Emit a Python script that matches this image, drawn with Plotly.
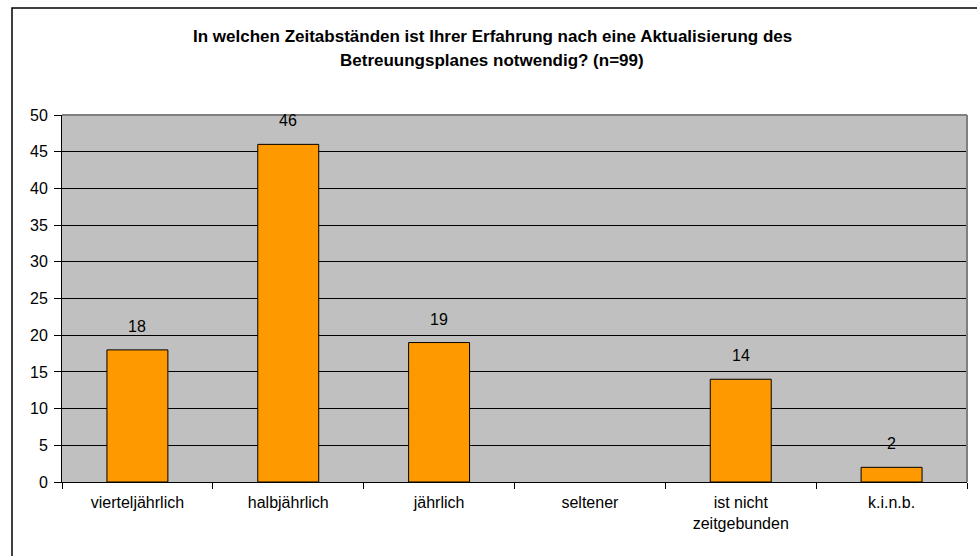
import plotly.graph_objects as go

categories = ["vierteljährlich", "halbjährlich", "jährlich", "seltener", "ist nicht<br>zeitgebunden", "k.i.n.b."]
values = [18, 46, 19, None, 14, 2]
title_lines = ["In welchen Zeitabständen ist Ihrer Erfahrung nach eine Aktualisierung des",
               "Betreuungsplanes notwendig? (n=99)"]
y_ticks = [0, 5, 10, 15, 20, 25, 30, 35, 40, 45, 50]

FONT = "Liberation Sans, Arial, sans-serif"

fig = go.Figure()
fig.add_trace(go.Bar(
    x=categories, y=values,
    marker=dict(color="#FF9900", line=dict(color="black", width=1)),
    width=0.404,
    hoverinfo="x+y",
))

W, H = 977, 556
L, R, T, B = 62, 10, 115, 74
pw, ph = W - L - R, H - T - B

def px_x(x):
    return (x - L) / pw

def px_y(y):
    return 1 - (y - T) / ph

label_annotations = [
    dict(x=c, y=v, xref="x", yref="y", text=str(v), showarrow=False,
         yanchor="bottom", yshift=13, font=dict(family=FONT, size=16, color="black"))
    for c, v in zip(categories, values) if v is not None
]

fig.update_layout(
    width=W, height=H,
    margin=dict(l=L, r=R, t=T, b=B, pad=0),
    paper_bgcolor="white", plot_bgcolor="#C0C0C0",
    showlegend=False,
    font=dict(family=FONT, size=16, color="black"),
    xaxis=dict(
        type="category", showline=True, linecolor="black", linewidth=1,
        ticks="outside", ticklen=6, tickcolor="black", tickson="boundaries",
        showgrid=False, tickfont=dict(size=16), fixedrange=True, ticklabelstandoff=6,
    ),
    yaxis=dict(
        range=[0, 50], tickvals=y_ticks, showline=True, linecolor="black", linewidth=1,
        ticks="outside", ticklen=7, tickcolor="black", showgrid=True, gridcolor="black",
        gridwidth=1, zeroline=False, tickfont=dict(size=16), fixedrange=True,
        ticklabelstandoff=3,
    ),
    shapes=[
        dict(type="rect", xref="paper", yref="paper",
             x0=px_x(12), x1=px_x(990), y0=px_y(8), y1=px_y(570),
             line=dict(color="black", width=1.5), layer="below"),
        dict(type="line", xref="paper", yref="paper", x0=0, x1=1, y0=1, y1=1,
             line=dict(color="#808080", width=2)),
        dict(type="line", xref="paper", yref="paper", x0=1, x1=1, y0=0, y1=1,
             line=dict(color="#808080", width=2)),
    ],
    annotations=[
        dict(text="<b>%s</b>" % title_lines[0], xref="paper", yref="paper",
             x=px_x(492), y=px_y(37), xanchor="center", yanchor="middle", showarrow=False,
             font=dict(family=FONT, size=17, color="black")),
        dict(text="<b>%s</b>" % title_lines[1], xref="paper", yref="paper",
             x=px_x(492), y=px_y(60), xanchor="center", yanchor="middle", showarrow=False,
             font=dict(family=FONT, size=17, color="black")),
    ] + label_annotations,
)

fig.write_html("out.html", config={"displayModeBar": False},
               post_script="document.body.style.margin='0';document.body.style.overflow='hidden';")
